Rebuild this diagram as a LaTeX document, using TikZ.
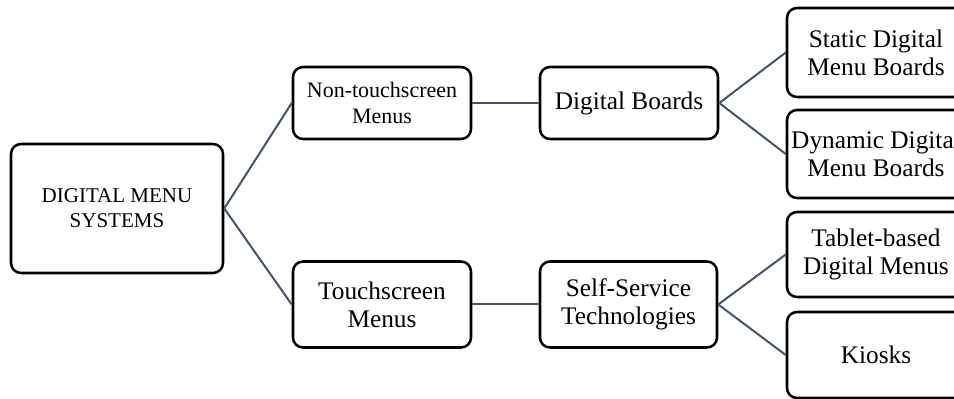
\documentclass[tikz,border=0pt]{standalone}
\usepackage{fontspec}
\setmainfont{Liberation Serif}
\definecolor{linkcol}{HTML}{44546A}
\tikzset{
  px/.style={x=0.75pt,y=-0.75pt},
  box/.style 2 args={draw=black, line width=1.9pt, rounded corners=7.5pt,
    fill=white, align=center, inner sep=0pt,
    minimum width=#1*0.75pt, minimum height=#2*0.75pt,
    font=\fontsize{19pt}{21pt}\selectfont},
  smalltext/.style={font=\fontsize{16.5pt}{19.5pt}\selectfont},
  roottext/.style={font=\fontsize{15.75pt}{18.75pt}\selectfont},
  link/.style={draw=linkcol, line width=1.5pt}
}
\begin{document}
\begin{tikzpicture}[px]
  \useasboundingbox (0,0) rectangle (954,399);
  \clip (0,0) rectangle (954,399);
  \fill[white] (0,0) rectangle (954,399);

  % tree nodes
  \node[box={212}{129}, roottext] (root) at (117,208.5) {DIGITAL MENU\\SYSTEMS};
  \node[box={178}{72}, smalltext] (nontouch) at (382,103) {Non-touchscreen\\Menus};
  \node[box={178}{86}] (touch) at (382,304.5) {Touchscreen\\Menus};
  \node[box={178}{72}] (boards) at (629,103) {Digital Boards};
  \node[box={177}{86}] (self) at (628.5,304.5) {Self-Service\\Technologies};
  \node[box={178}{89}] (static) at (876,52.5) {Static Digital\\Menu Boards};
  \node[box={178}{88}] (dynamic) at (876,154) {Dynamic Digital\\Menu Boards};
  \node[box={178}{85}] (tablet) at (876,254.5) {Tablet-based\\Digital Menus};
  \node[box={178}{86}] (kiosk) at (876,355) {Kiosks};

  % connectors
  \draw[link] (root.east) -- (nontouch.west);
  \draw[link] (root.east) -- (touch.west);
  \draw[link] (nontouch.east) -- (boards.west);
  \draw[link] (touch.east) -- (self.west);
  \draw[link] (boards.east) -- (static.west);
  \draw[link] (boards.east) -- (dynamic.west);
  \draw[link] (self.east) -- (tablet.west);
  \draw[link] (self.east) -- (kiosk.west);
\end{tikzpicture}
\end{document}
